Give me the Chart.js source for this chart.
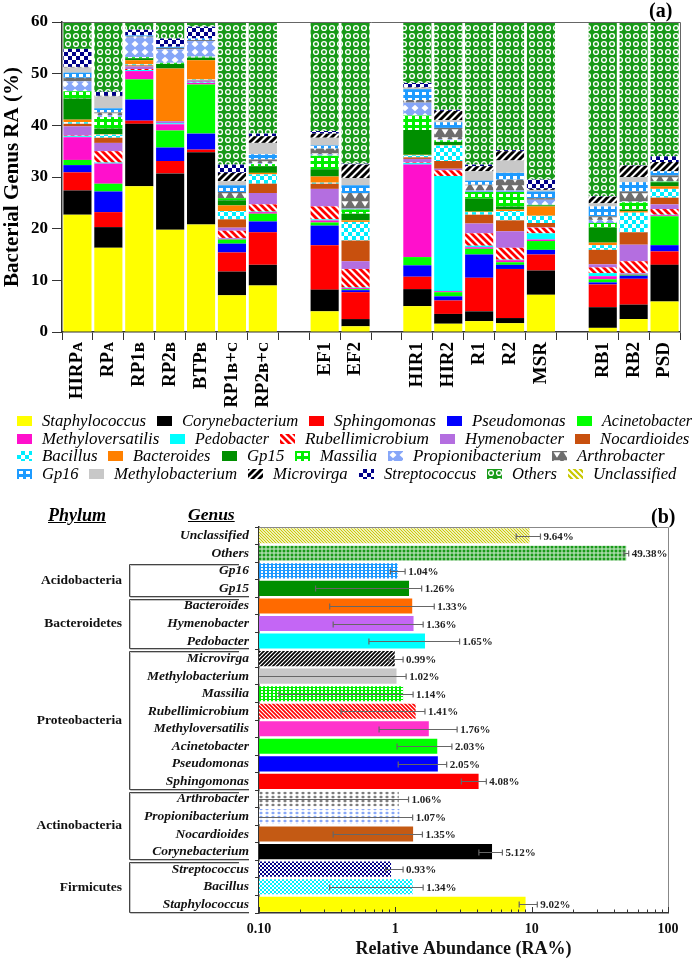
<!DOCTYPE html>
<html><head><meta charset="utf-8">
<script src="https://cdn.jsdelivr.net/npm/chart.js@4.4.1/dist/chart.umd.min.js"></script>
<style>
html,body{margin:0;padding:0;background:#fff;}
body{width:696px;height:960px;position:relative;overflow:hidden;font-family:"Liberation Serif","Times New Roman",serif;color:#000;}
canvas{position:absolute;left:0;}
#c1{top:0;}
#c2{top:495px;}
.t{position:absolute;white-space:nowrap;line-height:1;}
.lgtxt{position:absolute;font-style:italic;font-size:16px;line-height:16px;white-space:nowrap;transform-origin:0 50%;}
</style></head><body>
<canvas id="c1" width="696" height="420"></canvas>
<canvas id="c2" width="696" height="465"></canvas>
<div id="legend"></div>
<div class="t" style="left:649px;top:0px;font-weight:bold;font-size:20px;">(a)</div>
<div class="t" style="left:651px;top:506px;font-weight:bold;font-size:20px;">(b)</div>
<div class="t" style="left:48px;top:506px;font-weight:bold;font-style:italic;font-size:18px;text-decoration:underline;">Phylum</div>
<div class="t" style="left:188px;top:506px;font-weight:bold;font-style:italic;font-size:17.5px;text-decoration:underline;">Genus</div>
<script>
// ---------------- DATA (a) ----------------
const sampleLabels = ['HIRPᴀ','RPᴀ','RP1ʙ','RP2ʙ','BTPʙ','RP1ʙ+ᴄ','RP2ʙ+ᴄ','','EF1','EF2','','HIR1','HIR2','R1','R2','MSR','','RB1','RB2','PSD'];
const staphylococcus    = [22.7,16.3,28.2,19.8,20.8,7.1,9.0,null,4.0,1.1,null,5.0,1.6,2.1,1.7,7.2,null,0.8,2.5,5.9];
const corynebacterium   = [4.7,4.0,12.1,10.9,14.0,4.6,4.0,null,4.2,1.4,null,3.3,1.9,1.9,1.0,4.7,null,4.0,2.8,7.1];
const sphingomonas      = [3.5,2.9,0.6,2.4,0.5,3.7,6.3,null,8.6,5.2,null,2.4,2.6,6.5,9.5,3.1,null,4.4,5.0,2.6];
const pseudomonas       = [1.4,4.0,4.1,2.6,3.1,1.7,2.1,null,3.8,0.4,null,2.2,0.8,4.5,0.8,0.9,null,0.4,0.6,1.2];
const acinetobacter     = [1.0,1.5,3.9,3.3,9.5,0.8,1.5,null,0.6,0.2,null,1.6,0.8,1.1,0.5,1.7,null,0.6,0.2,5.6];
const methyloversatilis = [4.4,3.9,1.6,1.2,0.3,0.2,0.3,null,0.4,0.2,null,17.9,0.2,0.3,0.4,0.3,null,0.6,0.2,0.2];
const pedobacter        = [0.2,0.2,0.2,0.2,0.1,0.1,0.1,null,0.2,0.1,null,0.3,22.3,0.3,0.1,1.2,null,0.6,0.1,0.1];
const rubellimicrobium  = [0.1,2.2,0.2,0.0,0.1,1.4,1.4,null,2.5,3.6,null,0.1,1.1,2.4,2.3,1.1,null,1.1,2.3,1.1];
const hymenobacter      = [1.8,1.6,0.5,0.4,0.3,0.6,2.2,null,3.4,1.5,null,0.7,0.3,1.9,3.2,0.1,null,0.6,3.2,0.9];
const nocardioides      = [0.5,1.0,0.2,0.0,0.1,1.6,1.8,null,1.0,4.0,null,0.3,1.5,1.7,2.1,0.8,null,2.8,2.4,1.3];
const bacillus          = [0.3,0.6,0.2,0.0,0.1,1.6,1.8,null,0.2,3.6,null,0.4,3.0,0.5,1.8,1.4,null,0.9,3.8,1.7];
const bacteroides       = [0.5,0.1,0.8,10.2,3.7,1.1,0.3,null,1.2,0.3,null,0.1,0.1,0.1,0.3,1.8,null,0.5,0.3,0.5];
const gp15              = [4.1,1.1,0.4,0.9,0.5,1.0,1.3,null,1.4,1.3,null,4.8,0.6,2.5,0.6,0.2,null,2.9,0.3,0.8];
const massilia          = [1.4,2.2,0.2,0.2,0.2,0.4,0.4,null,2.6,0.8,null,2.8,0.3,1.3,2.8,0.1,null,0.9,1.4,0.1];
const propionibacterium = [1.9,0.4,3.8,2.6,3.0,0.0,0.2,null,0.3,0.2,null,2.5,0.2,0.3,0.3,1.0,null,0.6,0.1,0.1];
const arthrobacter      = [0.7,0.5,0.2,0.3,0.2,1.2,0.7,null,1.1,3.0,null,0.5,2.2,1.1,2.1,0.3,null,0.7,2.0,1.1];
const gp16              = [1.0,0.8,0.2,0.2,0.3,1.3,1.0,null,0.6,1.5,null,2.1,1.1,0.8,1.3,1.3,null,1.9,1.8,0.8];
const methylobacterium  = [1.0,2.3,0.0,0.0,0.0,0.8,2.2,null,1.5,1.4,null,0.3,0.4,1.8,2.4,0.3,null,0.6,1.0,0.0];
const microvirga        = [0.1,0.1,0.0,0.0,0.0,1.6,1.3,null,0.8,2.6,null,0.1,1.8,1.0,1.8,0.2,null,1.3,2.2,1.8];
const streptococcus     = [3.5,0.8,1.1,1.6,2.3,1.6,0.5,null,0.5,0.2,null,0.8,0.2,0.3,0.2,1.8,null,0.1,0.1,1.1];
const others            = [5.2,13.5,1.5,3.2,0.9,27.6,21.6,null,21.1,27.4,null,11.8,17.0,27.6,24.8,30.5,null,33.7,27.7,26.0];
const yAxisA = {min:0, max:60, step:10};

// ---------------- DATA (b) ----------------
const genusB = ['Unclassified','Others','Gp16','Gp15','Bacteroides','Hymenobacter','Pedobacter','Microvirga','Methylobacterium','Massilia','Rubellimicrobium','Methyloversatilis','Acinetobacter','Pseudomonas','Sphingomonas','Arthrobacter','Propionibacterium','Nocardioides','Corynebacterium','Streptococcus','Bacillus','Staphylococcus'];
const meanRA  = [9.64,49.38,1.04,1.26,1.33,1.36,1.65,0.99,1.02,1.14,1.41,1.76,2.03,2.05,4.08,1.06,1.07,1.35,5.12,0.93,1.34,9.02];
const errLow  = [7.7,47.5,0.92,0.26,0.33,0.35,0.64,0.90,0.05,0.14,0.40,0.76,1.03,1.05,3.05,0.05,0.05,0.35,4.1,0.85,0.33,8.1];
const errHigh = [11.6,51.5,1.18,1.56,1.93,1.60,2.96,1.14,1.20,1.35,1.65,2.84,2.60,2.38,4.65,1.25,1.34,1.58,6.1,1.14,1.60,11.0];
const phyla = [['Acidobacteria',2,3],['Bacteroidetes',4,6],['Proteobacteria',7,14],['Actinobacteria',15,18],['Firmicutes',19,21]];
const xAxisB = {min:0.1, max:100};

const stackOrder = [
 ['Staphylococcus',staphylococcus],['Corynebacterium',corynebacterium],['Sphingomonas',sphingomonas],
 ['Pseudomonas',pseudomonas],['Acinetobacter',acinetobacter],['Methyloversatilis',methyloversatilis],
 ['Pedobacter',pedobacter],['Rubellimicrobium',rubellimicrobium],['Hymenobacter',hymenobacter],
 ['Nocardioides',nocardioides],['Bacillus',bacillus],['Bacteroides',bacteroides],['Gp15',gp15],
 ['Massilia',massilia],['Propionibacterium',propionibacterium],['Arthrobacter',arthrobacter],
 ['Gp16',gp16],['Methylobacterium',methylobacterium],['Microvirga',microvirga],
 ['Streptococcus',streptococcus],['Others',others]
];

// ---------------- LEGEND LAYOUT ----------------
const legendLayout = [
 [['Staphylococcus',16.7],['Corynebacterium',156.7],['Sphingomonas',309],['Pseudomonas',447],['Acinetobacter',576.7]],
 [['Methyloversatilis',16.7],['Pedobacter',170],['Rubellimicrobium',280],['Hymenobacter',440],['Nocardioides',575]],
 [['Bacillus',16.7],['Bacteroides',108.3],['Gp15',221.7],['Massilia',295],['Propionibacterium',388],['Arthrobacter',552.3]],
 [['Gp16',16.7],['Methylobacterium',89.3],['Microvirga',248.3],['Streptococcus',359],['Others',487.3],['Unclassified',568.3]]
];
const legendRowEnd = [691.7,689.3,665,676.7];
const legendRowY = [421,438.7,456.3,474.3];

// ---------------- STYLES ----------------
const FONT = '"Liberation Serif", "Times New Roman", serif';
const SOLID = {Staphylococcus:'#ffff00',Corynebacterium:'#000000',Sphingomonas:'#ff0000',Pseudomonas:'#0000ff',
 Acinetobacter:'#00ff00',Methyloversatilis:'#ff10cc',Pedobacter:'#00ffff',Hymenobacter:'#b46ee0',
 Nocardioides:'#c8500e',Bacteroides:'#ff8000',Gp15:'#008f00',Methylobacterium:'#c8c8c8'};
const SOLID2 = Object.assign({}, SOLID, {Hymenobacter:'#c466f5',Bacteroides:'#ff6a00',Methyloversatilis:'#ff33cc',Nocardioides:'#c45a14'});

function tile(w,h,fn){const c=document.createElement('canvas');c.width=w;c.height=h;fn(c.getContext('2d'),w,h);return c;}
function tiles(s,light){
  const q=n=>Math.max(2,Math.round(n*s));
  const stripes=(col,dir,p,lw)=>tile(p,p,g=>{g.fillStyle='#fff';g.fillRect(0,0,p,p);g.strokeStyle=col;g.lineWidth=lw;g.beginPath();
    for(let k=-1;k<=1;k++){ if(dir<0){g.moveTo(k*p-1,-1);g.lineTo(k*p+p+1,p+1);} else {g.moveTo(k*p-1,p+1);g.lineTo(k*p+p+1,-1);} } g.stroke();});
  const checker=(bg,fg,c)=>tile(2*c,2*c,g=>{g.fillStyle=bg;g.fillRect(0,0,2*c,2*c);g.fillStyle=fg;g.fillRect(0,0,c,c);g.fillRect(c,c,c,c);});
  const dots=(bg,fg,w,h,rw,rh)=>tile(w,h,g=>{g.fillStyle=bg;g.fillRect(0,0,w,h);g.fillStyle=fg;g.fillRect(Math.round((w-rw)/2),Math.round((h-rh)/2),rw,rh);});
  const diamonds=(bg,fg,w,h)=>tile(w,h,g=>{g.fillStyle=bg;g.fillRect(0,0,w,h);g.fillStyle=fg;g.beginPath();g.moveTo(w/2,h*0.1);g.lineTo(w*0.85,h/2);g.lineTo(w/2,h*0.9);g.lineTo(w*0.15,h/2);g.closePath();g.fill();});
  const tris=(bg,fg,w,h)=>tile(w,h,g=>{g.fillStyle=bg;g.fillRect(0,0,w,h);g.fillStyle=fg;g.beginPath();g.moveTo(w*0.15,h*0.15);g.lineTo(w*0.85,h*0.15);g.lineTo(w/2,h*0.85);g.closePath();g.fill();});
  const rings=(bg,t)=>tile(t,t,g=>{g.fillStyle=bg;g.fillRect(0,0,t,t);g.strokeStyle='#fff';g.lineWidth=Math.max(0.9,t*0.17);g.beginPath();g.arc(t/2,t/2,t*0.3,0,Math.PI*2);g.stroke();});
  return {
    Rubellimicrobium: stripes('#ff0000',-1,q(7),q(7)*0.4),
    Microvirga: stripes('#000000',1,q(7),q(7)*0.42),
    Unclassified: stripes('#c8c800',-1,q(6),q(6)*0.38),
    Bacillus: checker('#00eeff','#ffffff',q(4)),
    Massilia: dots('#00ee00','#ffffff',q(7),q(6),q(4),q(3)),
    Gp16: dots('#1e9bff','#ffffff',q(7),q(6),q(4),q(3)),
    Streptococcus: checker('#000088','#ffffff',q(4)),
    Propionibacterium: light ? diamonds('#ffffff','#86a6f8',q(10),q(8)) : diamonds('#86a6f8','#ffffff',q(10),q(8)),
    Arthrobacter: light ? diamonds('#ffffff','#7a7a7a',q(10),q(8)) : tris('#6e6e6e','#ffffff',q(10),q(8)),
    Others: rings('#189a18',q(8))
  };
}
function fillOf(ctx,name,T,S){ return T[name] ? ctx.createPattern(T[name],'repeat') : S[name]; }

// ---------------- CHART (a) ----------------
const ctx1 = document.getElementById('c1').getContext('2d');
const T1 = tiles(1,false);
const frame1 = {id:'frame1', afterDraw(ch){const {ctx,chartArea:a}=ch;ctx.save();ctx.strokeStyle='#666';ctx.lineWidth=1;ctx.beginPath();
  ctx.moveTo(a.left,a.top+0.5);ctx.lineTo(a.right+0.5,a.top+0.5);ctx.lineTo(a.right+0.5,a.bottom);ctx.stroke();ctx.restore();}};
new Chart(ctx1,{
  type:'bar',
  data:{labels:sampleLabels, datasets:stackOrder.map(([n,d])=>({label:n,data:d,backgroundColor:fillOf(ctx1,n,T1,SOLID),borderWidth:0,barPercentage:0.91,categoryPercentage:1}))},
  options:{responsive:false,animation:false,
    layout:{padding:{top:22,right:16,left:0,bottom:0}},
    plugins:{legend:{display:false},tooltip:{enabled:false}},
    scales:{
      x:{stacked:true,grid:{drawOnChartArea:false,tickLength:8,color:'#333',offset:true},border:{color:'#333',width:1.5},
         ticks:{maxRotation:90,minRotation:90,autoSkip:false,color:'#000',padding:2,font:{family:FONT,weight:'bold',size:19}},
         afterFit(s){s.height=88;}},
      y:{stacked:true,min:yAxisA.min,max:yAxisA.max,
         ticks:{stepSize:yAxisA.step,color:'#000',padding:4,font:{family:FONT,weight:'bold',size:17}},
         grid:{drawOnChartArea:false,tickLength:10,color:'#333'},border:{color:'#333',width:1.5},
         title:{display:true,text:'Bacterial Genus RA (%)',color:'#000',padding:0,font:{family:FONT,weight:'bold',size:21}},
         afterFit(s){s.width=62;}}
    }
  },
  plugins:[frame1]
});

// ---------------- LEGEND ----------------
(function(){
  const lg=document.getElementById('legend');
  const mctx=document.createElement('canvas').getContext('2d');
  mctx.font='italic 16px "Liberation Serif"';
  legendLayout.forEach((row,r)=>{
    const y=legendRowY[r];
    row.forEach(([name,x],j)=>{
      const sw=document.createElement('canvas');sw.width=15;sw.height=10;
      sw.style.cssText='position:absolute;left:'+x+'px;top:'+(y-5)+'px;';
      const g=sw.getContext('2d');g.fillStyle=fillOf(g,name,T1,SOLID);g.fillRect(0,0,15,10);
      lg.appendChild(sw);
      const tx=x+25, end=(j<row.length-1)?row[j+1][1]-11:legendRowEnd[r];
      const d=document.createElement('div');d.className='lgtxt';d.textContent=name;
      const w=mctx.measureText(name).width;
      d.style.left=tx+'px';d.style.top=(y-8)+'px';d.style.transform='scaleX('+((end-tx)/w).toFixed(3)+')';
      lg.appendChild(d);
    });
  });
})();

// ---------------- CHART (b) ----------------
const ctx2 = document.getElementById('c2').getContext('2d');
const T2 = tiles(0.55,true);
const plugB = {id:'plugB',
  afterDatasetsDraw(ch){
    const {ctx}=ch, xs=ch.scales.x, ys=ch.scales.y;
    ctx.save();
    meanRA.forEach((v,i)=>{
      const y=Math.round(ys.getPixelForValue(i))+0.5;
      const lo=errLow[i], hi=errHigh[i];
      const xl=xs.getPixelForValue(Math.max(lo,xs.min)), xh=xs.getPixelForValue(hi);
      ctx.strokeStyle='#666';ctx.lineWidth=1.2;ctx.beginPath();
      ctx.moveTo(xl,y);ctx.lineTo(xh,y);ctx.moveTo(xh,y-3);ctx.lineTo(xh,y+3);
      if(lo>xs.min){ctx.moveTo(xl,y-3);ctx.lineTo(xl,y+3);}
      ctx.stroke();
      ctx.fillStyle='#222';ctx.font='bold 11px "Liberation Serif"';ctx.textBaseline='middle';ctx.textAlign='left';
      ctx.fillText(v.toFixed(2)+'%',xh+3,y+0.5);
    });
    ctx.restore();
  },
  afterDraw(ch){
    const {ctx,chartArea:a}=ch, xs=ch.scales.x, ys=ch.scales.y;
    ctx.save();
    ctx.strokeStyle='#888';ctx.lineWidth=1;ctx.beginPath();
    ctx.moveTo(a.left,a.top+0.5);ctx.lineTo(a.right+0.5,a.top+0.5);ctx.lineTo(a.right+0.5,a.bottom);ctx.stroke();
    ctx.strokeStyle='#333';ctx.lineWidth=1;ctx.beginPath();
    for(let e=-1;e<=2;e++){for(let m=1;m<=9;m++){const v=m*Math.pow(10,e);if(v>xs.max*1.0001)break;
      const px=Math.round(xs.getPixelForValue(v))+0.5;const len=(m===1)?6:3.5;ctx.moveTo(px,a.bottom);ctx.lineTo(px,a.bottom-len);}}
    ctx.stroke();
    const rowH=Math.abs(ys.getPixelForValue(1)-ys.getPixelForValue(0));
    phyla.forEach(([name,i0,i1])=>{
      const top=Math.round(ys.getPixelForValue(i0)-rowH/2+1.5)+0.5, bot=Math.round(ys.getPixelForValue(i1)+rowH/2-1.5)+0.5;
      const xv=129.5;
      ctx.strokeStyle='#c4c4c4';ctx.lineWidth=1;ctx.beginPath();
      ctx.moveTo(239,top+1);ctx.lineTo(xv+1,top+1);ctx.lineTo(xv+1,bot+1);ctx.lineTo(249,bot+1);ctx.stroke();
      ctx.strokeStyle='#444';ctx.beginPath();
      ctx.moveTo(239,top);ctx.lineTo(xv,top);ctx.lineTo(xv,bot);ctx.lineTo(249,bot);ctx.stroke();
      ctx.fillStyle='#111';ctx.font='bold 13.5px "Liberation Serif"';ctx.textAlign='right';ctx.textBaseline='middle';
      ctx.fillText(name,122,(top+bot)/2);
    });
    ctx.restore();
  }
};
new Chart(ctx2,{
  type:'bar',
  data:{labels:genusB,datasets:[{data:meanRA,backgroundColor:genusB.map(n=>fillOf(ctx2,n,T2,SOLID2)),borderWidth:0,barPercentage:0.86,categoryPercentage:1}]},
  options:{indexAxis:'y',responsive:false,animation:false,
    layout:{padding:{top:32,right:28,left:0,bottom:0}},
    plugins:{legend:{display:false},tooltip:{enabled:false}},
    scales:{
      x:{type:'logarithmic',min:xAxisB.min,max:xAxisB.max,
         grid:{drawOnChartArea:false,drawTicks:false},border:{color:'#333',width:1.5},
         ticks:{autoSkip:false,maxRotation:0,color:'#111',padding:8,font:{family:FONT,weight:'bold',size:14}},
         title:{display:true,text:'Relative Abundance (RA%)',color:'#111',padding:{top:1,bottom:0},font:{family:FONT,weight:'bold',size:18}},
         afterFit(s){s.height=47;}},
      y:{grid:{drawOnChartArea:false,tickLength:4,color:'#333',offset:true},border:{color:'#333',width:1.5},
         ticks:{autoSkip:false,color:'#111',padding:6,font:{family:FONT,weight:'bold',style:'italic',size:13.5}},
         afterFit(s){s.width=259;}}
    }
  },
  plugins:[plugB]
});
// log tick labels: only decades
Chart.getChart('c2').options.scales.x.ticks.callback = function(v){const l=Math.log10(v);if(Math.abs(l-Math.round(l))<1e-9){return v<1?Number(v).toFixed(2):String(Math.round(v));}return '';};
Chart.getChart('c2').update();
</script>
</body></html>
